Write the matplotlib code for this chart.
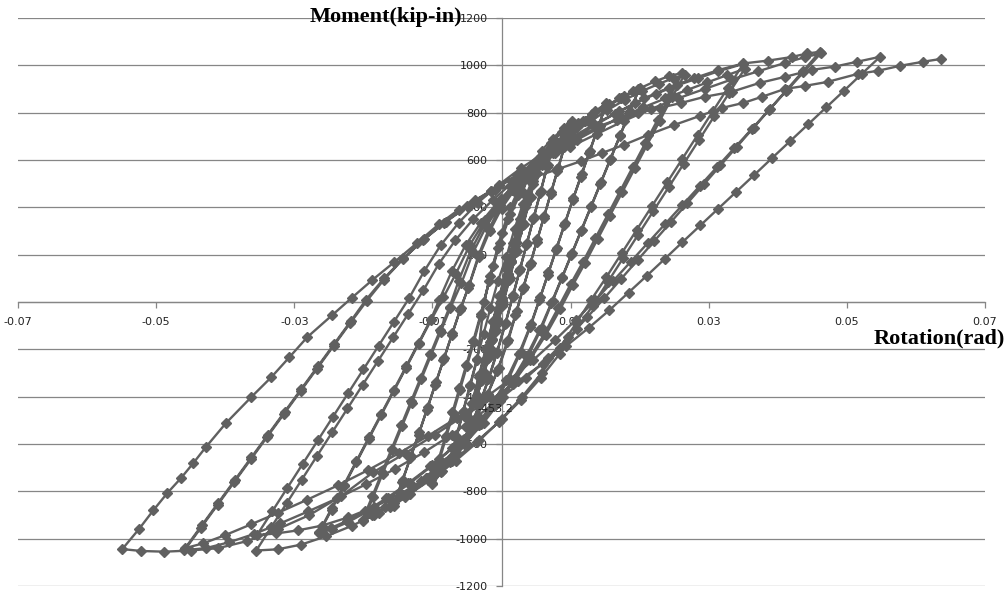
import numpy as np
import matplotlib
matplotlib.use("Agg")
import matplotlib.pyplot as plt

# ---- data (rotation in rad, moment in kip-in) ----
rot_e1 = [0.0000, 0.0007, 0.0014, 0.0021, 0.0014, 0.0007, 0.0000, -0.0007, -0.0014, -0.0021, -0.0014, -0.0007,
          0.0000, 0.0007, 0.0014, 0.0021, 0.0014, 0.0006, -0.0002, -0.0009, -0.0016, -0.0022, -0.0015, -0.0008]
mom_e1 = [0, 85, 170, 250, 175, 95, 15, -70, -155, -240, -160, -80,
          5, 90, 175, 255, 170, 85, -5, -90, -170, -245, -165, -80]

rot_e2 = [-0.0001, 0.0008, 0.0017, 0.0026, 0.0035, 0.0027, 0.0018, 0.0009, 0.0000, -0.0009, -0.0018, -0.0027,
          -0.0036, -0.0028, -0.0019, -0.0010, -0.0001, 0.0008, 0.0017, 0.0026, 0.0036, 0.0028, 0.0019, 0.0010,
          0.0001, -0.0008, -0.0017, -0.0026, -0.0035, -0.0027, -0.0018, -0.0009]
mom_e2 = [5, 115, 220, 320, 415, 325, 220, 115, 10, -95, -200, -300,
          -400, -310, -205, -100, 0, 110, 215, 315, 420, 330, 225, 120,
          15, -90, -195, -295, -395, -300, -195, -90]

rot_e3 = [0.0000, 0.0010, 0.0020, 0.0030, 0.0040, 0.0050, 0.0041, 0.0031, 0.0021, 0.0011, 0.0001, -0.0009,
          -0.0019, -0.0029, -0.0039, -0.0048, -0.0052, -0.0043, -0.0033, -0.0023, -0.0013, -0.0003, 0.0007,
          0.0017, 0.0027, 0.0037, 0.0046, 0.0051, 0.0042, 0.0032, 0.0022, 0.0012, 0.0002, -0.0008, -0.0018,
          -0.0028, -0.0038, -0.0047, -0.0051, -0.0042, -0.0032, -0.0022, -0.0012]
mom_e3 = [0, 120, 235, 340, 440, 540, 440, 325, 210, 95, -15, -125,
          -235, -335, -425, -495, -530, -430, -315, -200, -85, 25, 140,
          250, 350, 445, 510, 545, 445, 330, 215, 100, -10, -120, -230,
          -330, -420, -490, -525, -425, -310, -195, -80]

rot_e4a = [-0.0002, 0.0010, 0.0022, 0.0034, 0.0046, 0.0058, 0.0068, 0.0076, 0.0067, 0.0057, 0.0047, 0.0037,
           0.0027, 0.0017, 0.0006, -0.0006, -0.0018, -0.0030, -0.0042, -0.0054, -0.0065, -0.0075, -0.0066,
           -0.0056, -0.0046, -0.0036, -0.0026, -0.0016, -0.0005]
mom_e4a = [30, 160, 290, 400, 500, 580, 640, 680, 580, 470, 360, 250,
           140, 30, -90, -210, -320, -420, -510, -590, -640, -675, -575,
           -465, -355, -245, -135, -25, 90]

rot_e4b = [0.0007, 0.0019, 0.0031, 0.0043, 0.0055, 0.0066, 0.0075, 0.0066, 0.0056, 0.0046, 0.0036, 0.0026,
           0.0016, 0.0005, -0.0007, -0.0019, -0.0031, -0.0043, -0.0055, -0.0066, -0.0075, -0.0065, -0.0055,
           -0.0045, -0.0035]
mom_e4b = [190, 310, 415, 505, 580, 635, 670, 570, 460, 350, 240, 130,
           20, -95, -215, -325, -425, -515, -590, -640, -670, -570, -460,
           -350, -240]

rot_c10a = [-0.0025, -0.0013, 0.0000, 0.0013, 0.0027, 0.0042, 0.0058, 0.0074, 0.0090, 0.0102,
            0.0092, 0.0082, 0.0072, 0.0062, 0.0052, 0.0042, 0.0032, 0.0022, 0.0010, -0.0004, -0.0020, -0.0037,
            -0.0054, -0.0070, -0.0086, -0.0100, -0.0090, -0.0080, -0.0070, -0.0060, -0.0050, -0.0040]
mom_c10a = [0, 150, 290, 400, 490, 570, 640, 690, 735, 765,
            665, 565, 465, 365, 265, 165, 65, -40, -160, -280, -390, -490,
            -580, -650, -715, -770, -670, -570, -470, -370, -270, -170]

rot_c10b = [-0.0030, -0.0018, -0.0005, 0.0009, 0.0024, 0.0040, 0.0056, 0.0072, 0.0088, 0.0101,
            0.0091, 0.0081, 0.0071, 0.0061, 0.0051, 0.0041, 0.0031, 0.0020, 0.0008, -0.0006, -0.0022, -0.0039,
            -0.0056, -0.0072, -0.0087, -0.0101, -0.0091, -0.0081, -0.0071, -0.0061, -0.0051, -0.0041]
mom_c10b = [-60, 90, 230, 350, 450, 540, 610, 670, 720, 755,
            655, 555, 455, 355, 255, 155, 55, -55, -170, -290, -400, -500,
            -585, -660, -720, -765, -665, -565, -465, -365, -265, -165]

rot_c15a = [-0.0030, -0.0016, -0.0002, 0.0013, 0.0029, 0.0046, 0.0064, 0.0082, 0.0100, 0.0118, 0.0135, 0.0152,
            0.0140, 0.0128, 0.0116, 0.0104, 0.0092, 0.0080, 0.0068, 0.0056, 0.0043, 0.0028, 0.0011, -0.0008,
            -0.0030, -0.0054, -0.0080, -0.0106, -0.0132, -0.0156,
            -0.0144, -0.0132, -0.0120, -0.0108, -0.0096, -0.0084, -0.0072, -0.0060]
mom_c15a = [-50, 110, 250, 370, 470, 550, 615, 670, 720, 765, 805, 840,
            740, 640, 540, 440, 335, 230, 125, 20, -95, -210, -320, -420,
            -515, -600, -680, -750, -810, -860,
            -760, -660, -560, -455, -350, -245, -140, -35]

rot_c15b = [-0.0047, -0.0033, -0.0018, -0.0002, 0.0015, 0.0033, 0.0052, 0.0071, 0.0091, 0.0111, 0.0131, 0.0151,
            0.0139, 0.0127, 0.0115, 0.0103, 0.0091, 0.0079, 0.0067, 0.0055, 0.0041, 0.0025, 0.0007, -0.0013,
            -0.0036, -0.0060, -0.0085, -0.0110, -0.0134, -0.0155,
            -0.0143, -0.0131, -0.0119, -0.0107, -0.0095, -0.0083, -0.0071, -0.0059]
mom_c15b = [70, 200, 310, 400, 475, 540, 600, 655, 705, 755, 795, 830,
            730, 630, 530, 430, 325, 220, 115, 10, -105, -220, -330, -430,
            -520, -605, -680, -745, -805, -850,
            -750, -650, -550, -445, -340, -235, -130, -25]

rot_c20a = [-0.0048, -0.0033, -0.0017, 0.0000, 0.0019, 0.0039, 0.0060, 0.0082, 0.0104, 0.0126, 0.0148, 0.0170,
            0.0190, 0.0200,
            0.0186, 0.0172, 0.0158, 0.0144, 0.0130, 0.0116, 0.0102, 0.0088, 0.0074, 0.0058, 0.0040, 0.0020,
            -0.0002, -0.0026, -0.0052, -0.0080, -0.0108, -0.0136, -0.0162, -0.0184, -0.0200,
            -0.0186, -0.0172, -0.0158, -0.0144, -0.0130, -0.0116, -0.0102, -0.0088, -0.0074]
mom_c20a = [60, 190, 300, 395, 475, 545, 610, 670, 725, 775, 820, 860,
            890, 905,
            805, 705, 605, 505, 405, 305, 205, 105, 5, -110, -220, -325,
            -420, -510, -595, -675, -745, -810, -865, -900, -925,
            -825, -725, -625, -525, -425, -325, -225, -125, -25]

rot_c20b = [-0.0058, -0.0041, -0.0022, -0.0002, 0.0019, 0.0041, 0.0064, 0.0087, 0.0110, 0.0133, 0.0156, 0.0178,
            0.0199,
            0.0185, 0.0171, 0.0157, 0.0143, 0.0129, 0.0115, 0.0101, 0.0087, 0.0072, 0.0055, 0.0036, 0.0015,
            -0.0008, -0.0033, -0.0060, -0.0088, -0.0116, -0.0143, -0.0168, -0.0188, -0.0201,
            -0.0187, -0.0173, -0.0159, -0.0145, -0.0131, -0.0117, -0.0103, -0.0089, -0.0075]
mom_c20b = [80, 210, 320, 410, 490, 560, 625, 685, 740, 790, 835, 870,
            898,
            800, 700, 600, 500, 400, 300, 200, 100, -5, -120, -230, -335,
            -430, -520, -605, -685, -755, -815, -865, -900, -920,
            -820, -720, -620, -520, -420, -320, -220, -120, -20]

rot_c26a = [-0.0062, -0.0044, -0.0024, -0.0003, 0.0020, 0.0044, 0.0069, 0.0095, 0.0121, 0.0147, 0.0173, 0.0198,
            0.0222, 0.0243, 0.0262,
            0.0244, 0.0226, 0.0208, 0.0190, 0.0172, 0.0154, 0.0136, 0.0118, 0.0100, 0.0082, 0.0062, 0.0040,
            0.0016, -0.0010, -0.0038, -0.0068, -0.0100, -0.0132, -0.0164, -0.0194, -0.0222, -0.0246, -0.0264,
            -0.0246, -0.0228, -0.0210, -0.0192, -0.0174, -0.0156, -0.0138, -0.0120, -0.0102, -0.0084]
mom_c26a = [90, 220, 330, 420, 500, 570, 640, 705, 765, 815, 860, 900,
            932, 955, 968,
            870, 770, 670, 570, 470, 370, 270, 170, 75, -25, -135, -240,
            -340, -435, -525, -610, -690, -765, -830, -885, -930, -960, -977,
            -877, -777, -677, -577, -477, -377, -277, -177, -77, 20]

rot_c26b = [-0.0066, -0.0046, -0.0024, -0.0001, 0.0023, 0.0048, 0.0074, 0.0100, 0.0127, 0.0153, 0.0179, 0.0204,
            0.0228, 0.0248, 0.0265,
            0.0247, 0.0229, 0.0211, 0.0193, 0.0175, 0.0157, 0.0139, 0.0121, 0.0103, 0.0085, 0.0064, 0.0041,
            0.0016, -0.0011, -0.0040, -0.0071, -0.0103, -0.0135, -0.0167, -0.0197, -0.0224, -0.0247, -0.0264,
            -0.0246, -0.0228, -0.0210, -0.0192, -0.0174, -0.0156, -0.0138, -0.0120, -0.0102]
mom_c26b = [120, 240, 345, 435, 510, 580, 645, 705, 760, 810, 855, 892,
            922, 945, 960,
            865, 765, 665, 565, 465, 365, 265, 165, 70, -30, -140, -245,
            -345, -440, -530, -615, -695, -765, -830, -885, -925, -955, -972,
            -872, -772, -672, -572, -472, -372, -272, -172, -72]

rot_c35a = [-0.0090, -0.0072, -0.0052, -0.0030, -0.0006, 0.0020, 0.0047, 0.0075, 0.0104, 0.0134, 0.0164, 0.0194,
            0.0224, 0.0254, 0.0284, 0.0314, 0.0350,
            0.0328, 0.0306, 0.0284, 0.0262, 0.0240, 0.0218, 0.0196, 0.0174, 0.0152, 0.0130, 0.0108, 0.0084,
            0.0058, 0.0030, 0.0000, -0.0032, -0.0066, -0.0102, -0.0140, -0.0178, -0.0216, -0.0254, -0.0290,
            -0.0324, -0.0355,
            -0.0333, -0.0311, -0.0289, -0.0267, -0.0245, -0.0223, -0.0201, -0.0179, -0.0157, -0.0135]
mom_c35a = [10, 130, 240, 335, 420, 495, 565, 630, 690, 745, 795, 840,
            880, 915, 945, 975, 1006,
            906, 806, 706, 606, 506, 406, 306, 206, 106, 10, -90, -195,
            -300, -400, -495, -585, -670, -750, -825, -890, -945, -990, -1025,
            -1045, -1050,
            -950, -850, -750, -650, -550, -450, -350, -250, -150, -50]

rot_c35b = [-0.0113, -0.0091, -0.0067, -0.0041, -0.0013, 0.0016, 0.0046, 0.0077, 0.0109, 0.0141, 0.0173, 0.0205,
            0.0237, 0.0268, 0.0298, 0.0326, 0.0352,
            0.0330, 0.0308, 0.0286, 0.0264, 0.0242, 0.0220, 0.0198, 0.0176, 0.0154, 0.0132, 0.0109, 0.0084,
            0.0057, 0.0028, -0.0003, -0.0036, -0.0071, -0.0108, -0.0146, -0.0184, -0.0222, -0.0260, -0.0295,
            -0.0326, -0.0354,
            -0.0332, -0.0310, -0.0288, -0.0266, -0.0244, -0.0222, -0.0200, -0.0178, -0.0156, -0.0134]
mom_c35b = [50, 160, 260, 350, 430, 505, 570, 630, 685, 735, 780, 822,
            860, 895, 928, 958, 985,
            885, 785, 685, 585, 485, 385, 285, 185, 85, -15, -115, -220,
            -320, -415, -505, -590, -670, -745, -810, -865, -910, -945, -965,
            -978, -985,
            -885, -785, -685, -585, -485, -385, -285, -185, -85, 15]

rot_c46a = [-0.0112, -0.0088, -0.0062, -0.0034, -0.0004, 0.0028, 0.0062, 0.0098, 0.0134, 0.0170, 0.0206, 0.0242,
            0.0278, 0.0314, 0.0350, 0.0386, 0.0420, 0.0442, 0.0461,
            0.0437, 0.0413, 0.0389, 0.0365, 0.0341, 0.0317, 0.0293, 0.0269, 0.0245, 0.0221, 0.0197, 0.0173,
            0.0149, 0.0124, 0.0097, 0.0068, 0.0036, 0.0002, -0.0034, -0.0072, -0.0112, -0.0154, -0.0196,
            -0.0238, -0.0280, -0.0320, -0.0358, -0.0394, -0.0428, -0.0459,
            -0.0435, -0.0411, -0.0387, -0.0363, -0.0339, -0.0315, -0.0291, -0.0267, -0.0243, -0.0219]
mom_c46a = [130, 240, 335, 420, 495, 565, 630, 690, 750, 805, 860, 905,
            945, 980, 1008, 1020, 1035, 1050, 1057,
            977, 897, 817, 737, 657, 577, 497, 417, 337, 257, 177, 97,
            17, -65, -150, -235, -320, -400, -480, -560, -635, -705, -770,
            -830, -885, -935, -980, -1015, -1040, -1049,
            -953, -857, -761, -665, -569, -473, -377, -281, -185, -89]

rot_c46b = [-0.0195, -0.0170, -0.0143, -0.0114, -0.0083, -0.0050, -0.0015, 0.0022, 0.0060, 0.0099, 0.0138, 0.0177,
            0.0216, 0.0255, 0.0294, 0.0333, 0.0372, 0.0410, 0.0440, 0.0462,
            0.0437, 0.0412, 0.0387, 0.0362, 0.0337, 0.0312, 0.0287, 0.0262, 0.0237, 0.0212, 0.0187, 0.0162,
            0.0136, 0.0108, 0.0078, 0.0046, 0.0011, -0.0026, -0.0065, -0.0106, -0.0149, -0.0193, -0.0237,
            -0.0281, -0.0323, -0.0363, -0.0400, -0.0432, -0.0458,
            -0.0434, -0.0410, -0.0386, -0.0362, -0.0338, -0.0314, -0.0290, -0.0266, -0.0242, -0.0218]
mom_c46b = [5, 95, 180, 260, 335, 405, 470, 535, 595, 655, 710, 765,
            815, 860, 900, 940, 975, 1010, 1035, 1050,
            970, 890, 810, 730, 650, 570, 490, 410, 330, 250, 170, 90,
            8, -75, -160, -245, -330, -410, -490, -565, -640, -710, -775,
            -835, -890, -940, -985, -1020, -1040,
            -944, -848, -752, -656, -560, -464, -368, -272, -176, -80]

rot_c55 = [-0.0196, -0.0170, -0.0142, -0.0112, -0.0080, -0.0046, -0.0010, 0.0028, 0.0068, 0.0108, 0.0142, 0.0167,
           0.0197, 0.0229, 0.0260, 0.0294, 0.0333, 0.0374, 0.0410, 0.0450, 0.0483, 0.0515, 0.0548,
           0.0522, 0.0496, 0.0470, 0.0444, 0.0418, 0.0392, 0.0366, 0.0340, 0.0314, 0.0288, 0.0262, 0.0236,
           0.0210, 0.0184, 0.0156, 0.0126, 0.0094, 0.0060, 0.0024, -0.0014, -0.0054, -0.0096, -0.0140,
           -0.0186, -0.0232, -0.0278, -0.0324, -0.0368, -0.0410, -0.0450, -0.0488, -0.0522, -0.0549]
mom_c55 = [10, 100, 185, 265, 340, 410, 475, 545, 620, 690, 744, 770,
           799, 820, 841, 867, 888, 926, 951, 981, 995, 1015, 1036,
           965, 893, 822, 751, 680, 609, 537, 466, 395, 324, 253, 181,
           110, 40, -35, -110, -185, -260, -335, -410, -480, -560, -640,
           -720, -820, -900, -960, -1010, -1040, -1050, -1055, -1052, -1044]

rot_last = [-0.0525, -0.0504, -0.0484, -0.0464, -0.0446, -0.0428, -0.0399, -0.0362, -0.0333, -0.0307, -0.0281,
            -0.0245, -0.0217, -0.0187, -0.0155, -0.0122, -0.0090, -0.0062, -0.0038, -0.0015, 0.0012, 0.0045,
            0.0080, 0.0115, 0.0146, 0.0178, 0.0212, 0.0250, 0.0287, 0.0319, 0.0350, 0.0377, 0.0410, 0.0439,
            0.0472, 0.0516, 0.0545, 0.0577, 0.0610, 0.0636]
mom_last = [-960, -880, -808, -744, -680, -613, -512, -401, -317, -233, -148,
            -55, 17, 93, 169, 250, 330, 390, 431, 470, 490, 525,
            560, 595, 630, 665, 706, 748, 786, 820, 841, 867, 900, 913,
            930, 964, 977, 998, 1015, 1027]

label_point = (-0.0035, -453.2)

x_ticks = [-0.07, -0.05, -0.03, -0.01, 0.01, 0.03, 0.05, 0.07]
y_ticks = list(range(-1200, 1201, 200))

# ---- assemble the full load history in test order ----
rotation = np.concatenate([rot_e1, rot_e2, rot_e3, rot_e4a, rot_e4b, rot_c10a, rot_c10b,
                           rot_c15a, rot_c15b, rot_c20a, rot_c20b, rot_c26a, rot_c26b,
                           rot_c35a, rot_c35b, rot_c46a, rot_c46b, rot_c55, rot_last])
moment = np.concatenate([mom_e1, mom_e2, mom_e3, mom_e4a, mom_e4b, mom_c10a, mom_c10b,
                         mom_c15a, mom_c15b, mom_c20a, mom_c20b, mom_c26a, mom_c26b,
                         mom_c35a, mom_c35b, mom_c46a, mom_c46b, mom_c55, mom_last])

fig = plt.figure(figsize=(10.08, 5.94), dpi=100)
ax = fig.add_axes([18 / 1008, 1 - 586 / 594, (985 - 18) / 1008, (586 - 18) / 594])

grid_color = '#868686'
line_color = '#606060'

ax.plot(rotation, moment, color=line_color, lw=1.7, marker='D', markersize=4.8,
        markerfacecolor=line_color, markeredgecolor=line_color, zorder=3)

ax.set_xlim(-0.07, 0.07)
ax.set_ylim(-1200, 1200)

# axes crossing at zero, Excel style
for side in ['top', 'right']:
    ax.spines[side].set_visible(False)
ax.spines['left'].set_position(('data', 0))
ax.spines['bottom'].set_position(('data', 0))
ax.spines['left'].set_color(grid_color)
ax.spines['bottom'].set_color(grid_color)
ax.spines['left'].set_linewidth(0.9)
ax.spines['bottom'].set_linewidth(0.9)

ax.set_xticks(x_ticks)
ax.set_xticklabels(['%.2f' % v for v in x_ticks])
ax.set_yticks(y_ticks)
ax.set_yticklabels([str(v) for v in y_ticks])
ax.tick_params(axis='x', direction='out', length=4, width=0.9, color=grid_color,
               labelsize=8, pad=7, labelcolor='#222222')
ax.tick_params(axis='y', direction='out', length=4, width=0.9, color=grid_color,
               labelsize=8, pad=6, labelcolor='#222222')

ax.yaxis.grid(True, color=grid_color, lw=0.9, zorder=0)
ax.set_axisbelow(True)

# data label
ax.text(label_point[0], label_point[1], '%.1f' % label_point[1], fontsize=8,
        ha='left', va='center', color='#222222', zorder=4)

# axis titles
title_font = dict(family='Liberation Serif', fontweight='bold', fontsize=16, color='black')
fig.text(462 / 1008, 1 - 17 / 594, 'Moment(kip-in)', ha='right', va='center', **title_font)
fig.text(1005 / 1008, 1 - 338 / 594, 'Rotation(rad)', ha='right', va='center', **title_font)

fig.savefig('out.png', dpi=100)
